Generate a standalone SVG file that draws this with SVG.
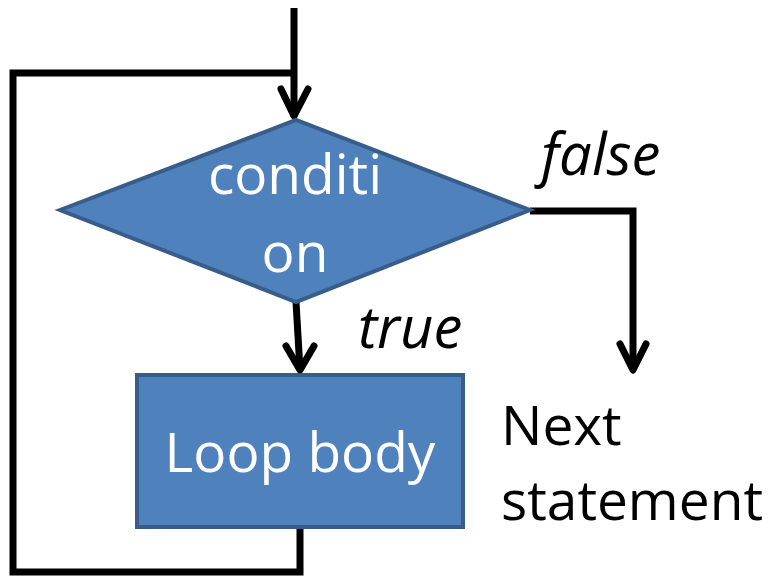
<svg xmlns="http://www.w3.org/2000/svg" width="771" height="576" viewBox="0 0 771 576">
  <style>
    .shape { fill: #4F81BD; stroke: #385D8A; stroke-width: 4; stroke-linejoin: miter; }
    .label { font-family: "Open Sans", "Liberation Sans", sans-serif; fill: #FFFFFF; text-anchor: middle; font-size: 55px; }
    .note { font-family: "Open Sans", "Liberation Sans", sans-serif; fill: #000000; font-size: 55px; }
    .italic { font-style: italic; font-size: 58px; }
    .wire { fill: none; stroke: #000000; stroke-width: 7; stroke-linejoin: miter; }
    .head { fill: none; stroke: #000000; stroke-width: 7; stroke-linecap: round; stroke-linejoin: round; }
  </style>
  <rect width="771" height="576" fill="#FFFFFF"/>

  <g id="connectors">
    <!-- entry line into the decision -->
    <path class="wire" d="M294,8 V117"/>
    <path class="head" d="M281,89 L294,116 L308,89"/>
    <!-- loop-back path from the body to the entry line -->
    <path class="wire" d="M300,527 V572 H13 V73 H294"/>
    <!-- true branch -->
    <path class="wire" d="M296,302 L300,370"/>
    <path class="head" d="M286,346 L300,370 L314,346"/>
    <!-- false branch -->
    <path class="wire" d="M530,211 H633 V370"/>
    <path class="head" d="M620,344 L633,370 L646,344"/>
  </g>

  <g id="condition">
    <polygon class="shape" points="60,210 296,120 530,210 296,302"/>
    <text class="label" x="295" y="194">conditi</text>
    <text class="label" x="295" y="272">on</text>
  </g>

  <g id="loop-body">
    <rect class="shape" x="137" y="375" width="326" height="152"/>
    <text class="label" x="300" y="472">Loop body</text>
  </g>

  <g id="label-false">
    <text class="note italic" x="541" y="175">false</text>
  </g>
  <g id="label-true">
    <text class="note italic" x="358" y="348">true</text>
  </g>
  <g id="next-statement">
    <text class="note" x="501" y="445">Next</text>
    <text class="note" x="501" y="520">statement</text>
  </g>
</svg>
